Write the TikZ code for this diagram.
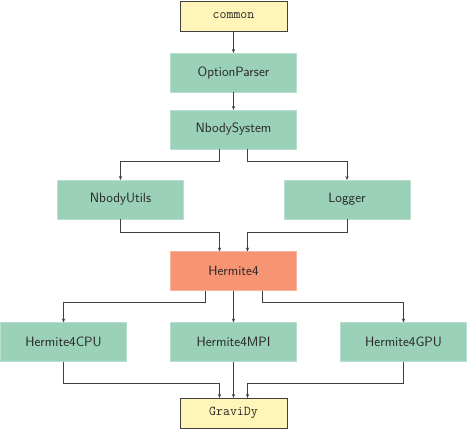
\documentclass[tikz,border=0pt]{standalone}
\usetikzlibrary{arrows.meta}
\definecolor{boxgreen}{HTML}{9AD1B8}
\definecolor{boxorange}{HTML}{F79473}
\definecolor{boxyellow}{HTML}{FFF5B8}
\definecolor{linegray}{HTML}{404040}
\begin{document}
\begin{tikzpicture}[x=1pt,y=-1pt,
  every node/.style={inner sep=0pt,outer sep=0pt},
  mod/.style={fill=boxgreen,draw=boxgreen!70!white,line width=0.6pt,minimum width=126pt,minimum height=39pt,font=\sffamily\fontsize{13.5}{16}\selectfont,text=black!85},
  core/.style={mod,fill=boxorange,draw=boxorange!70!white},
  ext/.style={fill=boxyellow,draw=black!75,line width=0.7pt,minimum width=107pt,minimum height=30pt,font=\ttfamily\fontsize{13.5}{16}\selectfont,text=black!85},
  arr/.style={draw=linegray,line width=0.6pt,-{Stealth[length=4pt,width=3.2pt]}}]
\useasboundingbox (0,0) rectangle (467,429);
\fill[white] (0,0) rectangle (467,429);
\node[ext] (cm) at (233.5,16) {common};
\node[mod] (op) at (233.5,72.5) {OptionParser};
\node[mod] (ns) at (233.5,129.5) {NbodySystem};
\node[mod] (nu) at (120.5,199.5) {NbodyUtils};
\node[mod] (lg) at (347,199.5) {Logger};
\node[core] (h4) at (233.5,271) {Hermite4};
\node[mod] (cpu) at (63.5,342) {Hermite4CPU};
\node[mod] (mpi) at (233.5,342) {Hermite4MPI};
\node[mod] (gpu) at (403.5,342) {Hermite4GPU};
\node[ext] (gd) at (233.5,413) {GraviDy};
\draw[arr] (cm) -- (op);
\draw[arr] (op) -- (ns);
\draw[arr] ([xshift=-14pt]ns.south) -- ++(0,12) -| (nu.north);
\draw[arr] ([xshift=14pt]ns.south) -- ++(0,12) -| (lg.north);
\draw[arr] (nu.south) -- ++(0,13) -| ([xshift=-14pt]h4.north);
\draw[arr] (lg.south) -- ++(0,13) -| ([xshift=14pt]h4.north);
\draw[arr] ([xshift=-28.5pt]h4.south) -- ++(0,12) -| (cpu.north);
\draw[arr] (h4) -- (mpi);
\draw[arr] ([xshift=28.5pt]h4.south) -- ++(0,12) -| (gpu.north);
\draw[arr] (cpu.south) -- ++(0,22) -| ([xshift=-14pt]gd.north);
\draw[arr] (mpi) -- (gd);
\draw[arr] (gpu.south) -- ++(0,22) -| ([xshift=14pt]gd.north);
\end{tikzpicture}
\end{document}
